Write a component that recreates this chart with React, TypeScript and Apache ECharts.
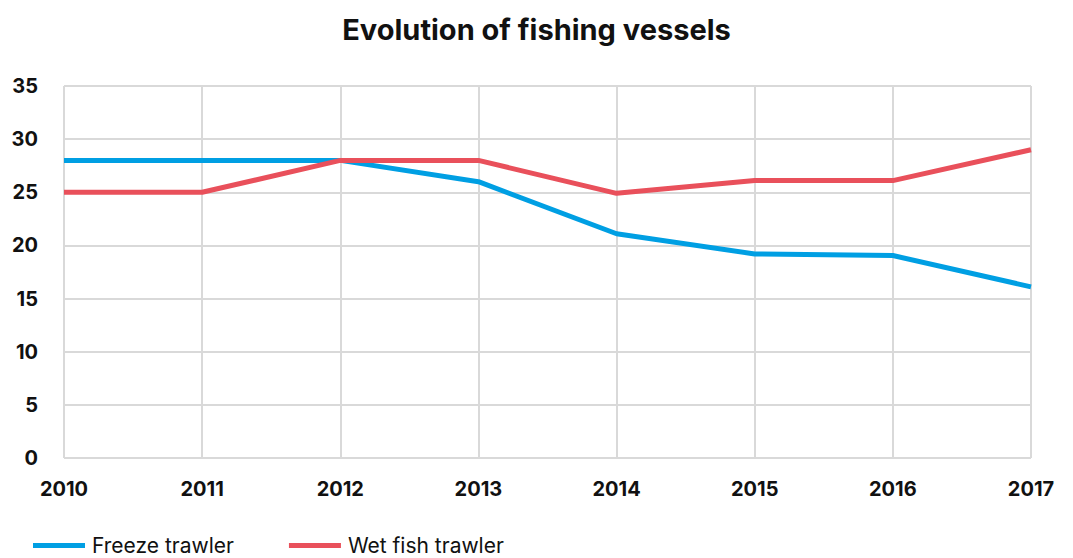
import React, { useEffect, useRef } from "react";
import * as echarts from "echarts";

const years = ["2010", "2011", "2012", "2013", "2014", "2015", "2016", "2017"];
const freezeTrawler = [28, 28, 28, 26, 21.1, 19.2, 19.05, 16.1];
const wetFishTrawler = [25, 25, 28, 28, 24.9, 26.1, 26.1, 29];
const yTicks = { min: 0, max: 35, interval: 5 };

const FONT = "Inter, 'Noto Sans', sans-serif";

export default function App() {
  const ref = useRef<HTMLDivElement>(null);
  useEffect(() => {
    if (!ref.current) return;
    const chart = echarts.init(ref.current, undefined, { renderer: "svg" });
    chart.setOption({
      animation: false,
      title: {
        text: "Evolution of fishing vessels",
        left: "center",
        top: 10,
        textStyle: { fontFamily: FONT, fontSize: 29, fontWeight: 700, color: "#111" },
      },
      legend: {
        left: 28,
        top: 530,
        icon: "rect",
        itemWidth: 52,
        itemHeight: 5,
        itemGap: 55,
        textStyle: { fontFamily: FONT, fontSize: 21, color: "#111", padding: [0, 0, 0, 2] },
        data: ["Freeze trawler", "Wet fish trawler"],
      },
      grid: { left: 64, right: 42, top: 86, bottom: 100, containLabel: false },
      xAxis: {
        type: "category",
        data: years,
        boundaryGap: false,
        axisLine: { show: false },
        axisTick: { show: false },
        axisLabel: {
          fontFamily: FONT,
          fontSize: 20,
          fontWeight: 700,
          color: "#111",
          margin: 21,
          interval: 0,
        },
        splitLine: { show: true, lineStyle: { color: "#d9d9d9", width: 2 } },
      },
      yAxis: {
        type: "value",
        min: yTicks.min,
        max: yTicks.max,
        interval: yTicks.interval,
        axisLine: { show: false },
        axisTick: { show: false },
        axisLabel: {
          fontFamily: FONT,
          fontSize: 20,
          fontWeight: 700,
          color: "#111",
          margin: 26,
        },
        splitLine: { show: true, lineStyle: { color: "#d9d9d9", width: 2 } },
      },
      series: [
        {
          name: "Freeze trawler",
          type: "line",
          data: freezeTrawler,
          showSymbol: false,
          symbol: "none",
          lineStyle: { color: "#009fe3", width: 5 },
          itemStyle: { color: "#009fe3" },
        },
        {
          name: "Wet fish trawler",
          type: "line",
          data: wetFishTrawler,
          showSymbol: false,
          symbol: "none",
          lineStyle: { color: "#e9505b", width: 5 },
          itemStyle: { color: "#e9505b" },
        },
      ],
    });
    return () => chart.dispose();
  }, []);
  return <div ref={ref} style={{ width: 1073, height: 558, position: "absolute", left: 0, top: 0 }} />;
}
